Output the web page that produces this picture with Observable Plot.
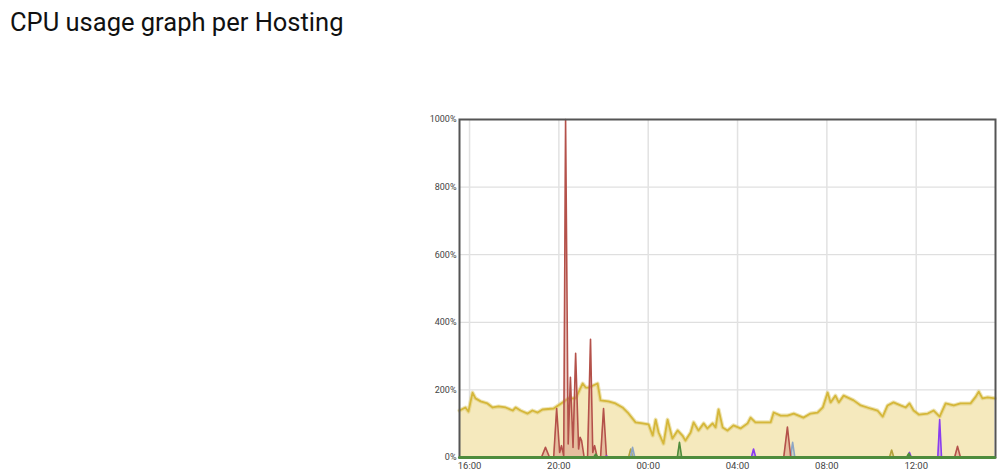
<!DOCTYPE html>
<html><head><meta charset="utf-8">
<script src="https://cdn.jsdelivr.net/npm/d3@7"></script>
<script src="https://cdn.jsdelivr.net/npm/@observablehq/plot@0.6"></script>
<style>
body{margin:0;background:#fff;font-family:Roboto,sans-serif;width:999px;height:471px;overflow:hidden;position:relative}
#title{position:absolute;left:10px;top:7px;font-size:25.5px;color:#111;white-space:nowrap}
#chart{position:absolute;left:0;top:100px}
</style></head><body>
<div id="title">CPU usage graph per Hosting</div>
<div id="chart"></div>
<script>
// Time labels (HH:MM) and CPU % values
const yellowTimes = ["15:33","15:49","15:57","16:08","16:16","16:30","16:48","17:02","17:18","17:37","17:56","18:04","18:17","18:36","18:49","19:03","19:16","19:46","20:10","20:26","20:45","21:04","21:12","21:20","21:44","21:52","22:13","22:32","22:51","23:05","23:26","23:45","00:01","00:12","00:20","00:28","00:41","00:52","01:05","01:19","01:32","01:40","01:54","02:02","02:15","02:29","02:39","02:53","03:01","03:09","03:20","03:33","03:49","04:08","04:27","04:35","04:48","05:10","05:29","05:37","05:56","06:14","06:31","06:57","07:16","07:35","07:49","08:02","08:10","08:23","08:32","08:45","09:12","09:31","09:57","10:16","10:30","10:43","10:59","11:18","11:32","11:42","11:53","12:07","12:31","12:47","13:03","13:19","13:41","13:59","14:26","14:40","14:48","14:58","15:12","15:31"];
const yellowValues = [139,148,136,192,175,166,160,148,151,148,139,148,139,130,139,133,142,145,163,175,175,219,207,207,219,169,166,160,148,133,104,101,98,65,112,74,41,112,56,80,65,50,74,104,80,101,86,101,89,142,89,80,95,86,101,118,104,104,104,133,124,124,130,118,130,133,148,192,163,183,163,183,169,154,145,139,121,154,163,154,148,160,139,127,130,139,121,160,154,160,160,180,195,175,178,175];

const redTimes = ["15:33","19:13","19:24","19:35","19:46","19:54","20:02","20:07","20:13","20:18","20:25","20:31","20:38","20:45","20:53","20:57","21:01","21:08","21:17","21:25","21:31","21:36","21:43","21:52","22:00","22:08","06:04","06:14","06:23","13:43","13:51","13:59","15:31"];
const redValues = [0,0,30,0,0,145,15,35,5,1000,40,237,30,308,25,60,50,0,0,350,15,35,0,0,145,0,0,90,0,0,33,0,0];

const greenTimes = ["15:33","21:33","21:39","21:45","01:18","01:24","01:30","11:34","11:40","11:46","15:31"];
const greenValues = [0,0,10,0,0,45,0,0,12,0,0];

const purpleTimes = ["15:33","22:03","22:08","22:13","04:37","04:43","04:49","11:37","11:42","11:47","12:58","13:03","13:08","15:31"];
const purpleValues = [0,0,5,0,0,25,0,0,15,0,0,112,0,0];

const blueTimes = ["15:33","23:12","23:18","23:24","06:22","06:28","06:34","15:31"];
const blueValues = [0,0,30,0,0,45,0,0];

const oliveTimes = ["15:33","23:07","23:13","23:19","10:48","10:54","11:00","15:31"];
const oliveValues = [0,0,25,0,0,22,0,0];

const yTicks = [0,200,400,600,800,1000];

function toDate(hm) {
  const day = hm >= "15:32" ? "2024-01-01" : "2024-01-02";
  return new Date(`${day}T${hm}:00`);
}
const rows = (times, values) => times.map((t, i) => ({t: toDate(t), v: values[i]}));

const yellow = rows(yellowTimes, yellowValues);
const spikes = [
  {data: rows(oliveTimes, oliveValues), stroke: "#b3a13a", fill: "#c9b95a"},
  {data: rows(blueTimes, blueValues), stroke: "#8ea6c4", fill: "#9fb3cf"},
  {data: rows(redTimes, redValues), stroke: "#b4514a", fill: "#d58a7a"},
  {data: rows(purpleTimes, purpleValues), stroke: "#8a3cf0", fill: "#9b5cf2"},
  {data: rows(greenTimes, greenValues), stroke: "#4e8c3c", fill: "#5f9a4a"}
];
const green = rows(greenTimes, greenValues);

const marks = [
  Plot.gridY(yTicks, {stroke: "#d8d8d8", strokeOpacity: 1}),
  Plot.gridX({ticks: d3.timeHour.every(4), stroke: "#e2e2e2", strokeOpacity: 1, strokeWidth: 1.5}),
  Plot.areaY(yellow, {x: "t", y: "v", fill: "#f5e9bd"}),
  Plot.lineY(yellow, {x: "t", y: "v", stroke: "#ddc96a", strokeWidth: 4, strokeOpacity: 0.5}),
  Plot.lineY(yellow, {x: "t", y: "v", stroke: "#d5b73a", strokeWidth: 1.8})
];
for (const s of spikes) {
  marks.push(Plot.areaY(s.data, {x: "t", y: "v", fill: s.fill, fillOpacity: 0.45}));
  marks.push(Plot.lineY(s.data, {x: "t", y: "v", stroke: s.stroke, strokeWidth: 1.6}));
}
marks.push(
  Plot.frame({stroke: "#555", strokeWidth: 2}),
  Plot.lineY(green, {x: "t", y: d => 0, stroke: "#4e8c3c", strokeWidth: 3}),
  Plot.axisY(yTicks, {tickSize: 0, tickPadding: 3, tickFormat: d => d + "%", fontSize: 9, fill: "#444", label: null}),
  Plot.axisX({ticks: d3.timeHour.every(4), tickFormat: d3.timeFormat("%H:%M"), tickSize: 0, tickPadding: 5, fontSize: 9.5, fill: "#444", label: null})
);

const chart = Plot.plot({
  width: 999,
  height: 371,
  marginLeft: 459,
  marginRight: 4,
  marginTop: 19,
  marginBottom: 14,
  style: {fontFamily: "Roboto, sans-serif", background: "transparent"},
  x: {type: "time", domain: [toDate("15:33"), new Date("2024-01-02T15:33:00")], label: null},
  y: {domain: [0, 1000], clamp: true, label: null},
  marks
});
document.getElementById("chart").appendChild(chart);
</script>
</body></html>
